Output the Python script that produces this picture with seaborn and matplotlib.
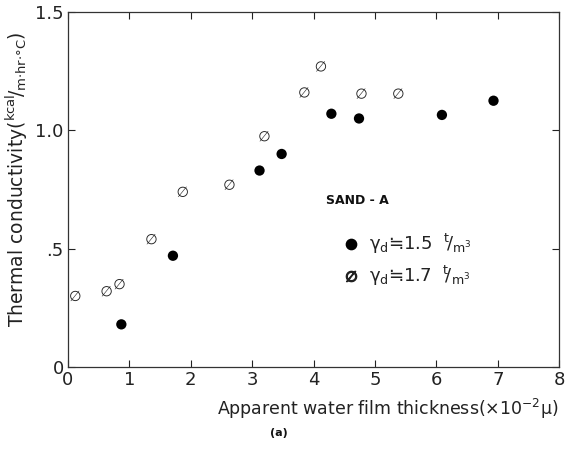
import numpy as np
import pandas as pd
import matplotlib
matplotlib.use("Agg")
import matplotlib.pyplot as plt
import seaborn as sns

# Data
x_15 = [0.87, 1.71, 3.12, 3.48, 4.29, 4.74, 6.09, 6.93]
y_15 = [0.18, 0.47, 0.83, 0.90, 1.07, 1.05, 1.065, 1.125]
x_17 = [0.12, 0.63, 0.84, 1.36, 1.87, 2.63, 3.20, 3.85, 4.12, 4.78, 5.38]
y_17 = [0.30, 0.32, 0.35, 0.54, 0.74, 0.77, 0.975, 1.16, 1.27, 1.155, 1.155]
series_labels = ["γ$_{\\rm d}$≒1.5  $^{\\rm t}\\!/_{\\rm m^3}$",
                 "γ$_{\\rm d}$≒1.7  $^{\\rm t}\\!/_{\\rm m^3}$"]
x_ticks = [0, 1, 2, 3, 4, 5, 6, 7, 8]
y_ticks = [0, 0.5, 1.0, 1.5]
y_tick_labels = ["0", ".5", "1.0", "1.5"]

df = pd.DataFrame({
    "x": x_15 + x_17,
    "y": y_15 + y_17,
    "s": [series_labels[0]] * len(x_15) + [series_labels[1]] * len(x_17),
})

sns.set_style("white")
plt.rcParams["font.family"] = ["DejaVu Sans"]
plt.rcParams["mathtext.fontset"] = "dejavusans"

fig = plt.figure(figsize=(5.66, 4.61), dpi=100)
ax = fig.add_axes([0.120, 0.204, 0.868, 0.770])

sns.scatterplot(data=df, x="x", y="y", style="s", hue="s",
                markers={series_labels[0]: "o", series_labels[1]: "$\\emptyset$"},
                palette={series_labels[0]: "black", series_labels[1]: "#222222"},
                s=55, edgecolor="none", linewidth=0, ax=ax, legend=False)

ax.set_xlim(0, 8)
ax.set_ylim(0, 1.5)
ax.set_xticks(x_ticks)
ax.set_xticklabels([str(t) for t in x_ticks])
ax.set_yticks(y_ticks)
ax.set_yticklabels(y_tick_labels)
ax.tick_params(direction="in", length=5, width=0.8, labelsize=13, colors="#222222",
               top=True, right=True, left=True, bottom=True, pad=3)
for sp in ax.spines.values():
    sp.set_color("#333333")
    sp.set_linewidth(0.9)

ax.set_xlabel("Apparent water film thickness(×10$^{-2}$μ)", fontsize=12.5,
              color="#222222")
ax.xaxis.set_label_coords(0.65, -0.085)
ax.set_ylabel("Thermal conductivity($^{\\rm kcal}\\!/_{\\rm m{\\cdot}hr{\\cdot}°C}$)",
              fontsize=13.5, color="#222222")
ax.yaxis.set_label_coords(-0.078, 0.53)

# legend-like annotation
ax.text(0.526, 0.47, "SAND - A", transform=ax.transAxes, fontsize=9,
        fontweight="bold", color="#111111", va="center")
ax.scatter([0.577], [0.346], transform=ax.transAxes, marker="o", s=55, color="black")
ax.scatter([0.577], [0.256], transform=ax.transAxes, marker="$\\emptyset$", s=55, color="#222222")
ax.text(0.613, 0.346, series_labels[0], transform=ax.transAxes, fontsize=13,
        va="center", color="#222222")
ax.text(0.613, 0.256, series_labels[1], transform=ax.transAxes, fontsize=13,
        va="center", color="#222222")

fig.text(0.492, 0.055, "(a)", fontsize=8, fontweight="bold", ha="center", color="#111111")

fig.savefig("out.png", dpi=100, facecolor="white")
